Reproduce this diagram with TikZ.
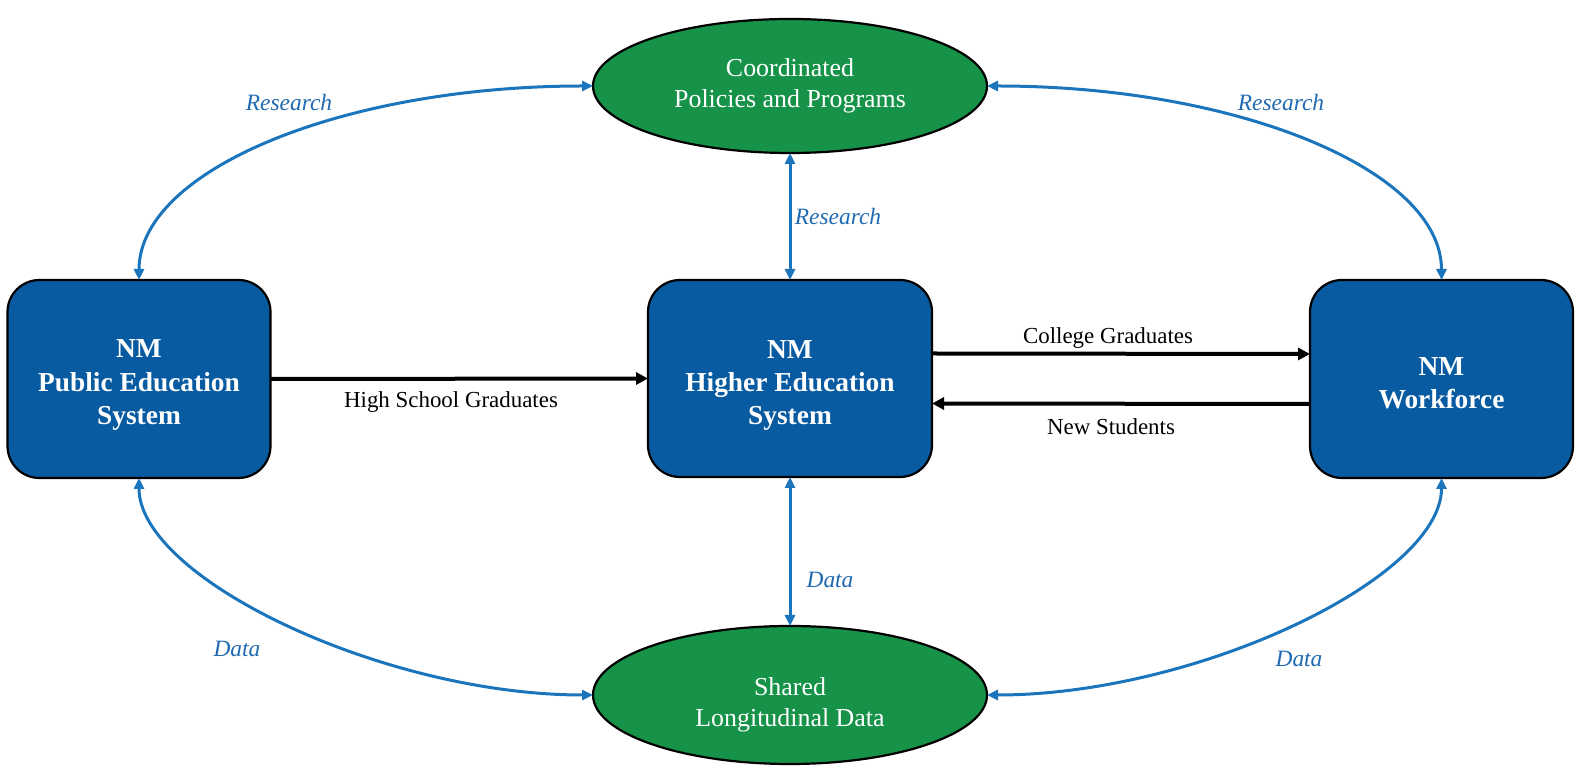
\documentclass[tikz,border=0pt]{standalone}
\usepackage{fontspec}
\setmainfont{Liberation Serif}
\usetikzlibrary{arrows.meta,calc,shapes.geometric}
\definecolor{boxblue}{RGB}{9,91,161}
\definecolor{ovalgreen}{RGB}{22,147,72}
\definecolor{arrowblue}{RGB}{27,117,188}
\definecolor{labelblue}{RGB}{31,106,176}
\tikzset{
  sysbox/.style={draw=black, line width=2.2bp, fill=boxblue, rounded corners=32bp,
    inner sep=0pt, outer sep=0pt, text=white, align=center,
    font=\fontsize{27.5}{33.5}\selectfont\bfseries},
  oval/.style={draw=black, line width=2.2bp, fill=ovalgreen, ellipse, inner sep=0pt,
    outer sep=0pt, text=white, align=center, font=\fontsize{26}{31}\selectfont},
  bluearr/.style={draw=arrowblue, line width=3bp,
    {Triangle[length=11bp,width=10bp]}-{Triangle[length=11bp,width=10bp]}},
  blackarr/.style={draw=black, line width=4bp, -{Triangle[length=12bp,width=12bp]}},
  bluelbl/.style={text=labelblue, font=\fontsize{23.5}{28}\selectfont\itshape, inner sep=0pt},
  blacklbl/.style={text=black, font=\fontsize{23}{28}\selectfont, inner sep=0pt}
}
\begin{document}
\begin{tikzpicture}[x=1bp,y=1bp]
\useasboundingbox (0,0) rectangle (1575,767);
% nodes
\node[sysbox, minimum width=263bp, minimum height=198bp] (pub) at (139,388) {\rule{0pt}{30bp}NM\\Public Education\\System};
\node[sysbox, minimum width=284bp, minimum height=197bp] (high) at (790,388.5) {\rule{0pt}{32bp}NM\\Higher Education\\System};
\node[sysbox, minimum width=263bp, minimum height=198bp] (work) at (1441.5,388) {\rule{0pt}{26bp}NM\\Workforce};
\node[oval, minimum width=394bp, minimum height=134bp] (top) at (790,681) {Coordinated\\Policies and Programs};
\node[oval, minimum width=394bp, minimum height=138bp] (bot) at (790,72) {\rule{0pt}{37bp}Shared\\Longitudinal Data};
% black flows
\draw[blackarr] (pub.east) -- (high.west);
\draw[blackarr] ([yshift=25bp]high.east) -- ([yshift=25bp]work.west);
\draw[blackarr] ([yshift=-25bp]work.west) -- ([yshift=-25bp]high.east);
\node[blacklbl] (lhs) at (451,365) {High School Graduates};
\node[blacklbl] (lcg) at (1108,429) {College Graduates};
\node[blacklbl] (lns) at (1111,340) {New Students};
% blue flows
\draw[bluearr] (top.south) -- (high.north);
\draw[bluearr] (high.south) -- (bot.north);
\draw[bluearr] (top.west) .. controls ($(top.west)+(-250,0)$) and ($(pub.north)+(0,110)$) .. (pub.north);
\draw[bluearr] (top.east) .. controls ($(top.east)+(250,0)$) and ($(work.north)+(0,110)$) .. (work.north);
\draw[bluearr] (pub.south) .. controls ($(pub.south)+(0,-100)$) and ($(bot.west)+(-210,0)$) .. (bot.west);
\draw[bluearr] (work.south) .. controls ($(work.south)+(0,-100)$) and ($(bot.east)+(210,0)$) .. (bot.east);
\node[bluelbl] (lr1) at (289,664) {Research};
\node[bluelbl] (lr2) at (1281,664) {Research};
\node[bluelbl] (lr3) at (838,550) {Research};
\node[bluelbl] (ld1) at (237,118) {Data};
\node[bluelbl] (ld2) at (1299,108) {Data};
\node[bluelbl] (ld3) at (830,187) {Data};
\end{tikzpicture}
\end{document}
